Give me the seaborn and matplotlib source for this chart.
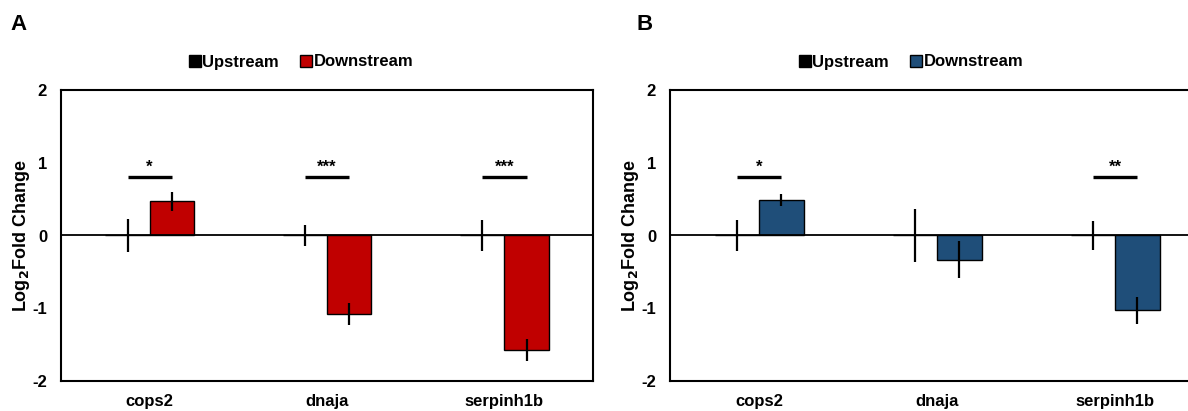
import numpy as np
import pandas as pd
import matplotlib
matplotlib.use("Agg")
import matplotlib.pyplot as plt
import seaborn as sns
from matplotlib.lines import Line2D

genes = ["cops2", "dnaja", "serpinh1b"]
groups = ["Upstream", "Downstream"]

# Panel A
a_up = [0.0, 0.0, 0.0]
a_up_err = [0.22, 0.14, 0.21]
a_down = [0.47, -1.08, -1.57]
a_down_err = [0.13, 0.15, 0.15]
a_stars = ["*", "***", "***"]

# Panel B
b_up = [0.0, 0.0, 0.0]
b_up_err = [0.21, 0.37, 0.20]
b_down = [0.49, -0.33, -1.03]
b_down_err = [0.08, 0.25, 0.19]
b_stars = ["*", "", "**"]

sns.set_style("white")
plt.rcParams["font.family"] = ["Liberation Sans", "DejaVu Sans"]
plt.rcParams["font.weight"] = "bold"
for k in ["text.color", "axes.labelcolor", "xtick.color", "ytick.color", "legend.labelcolor"]:
    plt.rcParams[k] = "black"

fig = plt.figure(figsize=(11.88, 4.11), dpi=100)
axA = fig.add_axes([61 / 1188, 1 - 381 / 411, 532 / 1188, 291 / 411])
axB = fig.add_axes([670 / 1188, 1 - 381 / 411, 534 / 1188, 291 / 411])


def draw(ax, up, up_err, down, down_err, stars, color):
    df = pd.DataFrame({
        "gene": genes * 2,
        "group": [groups[0]] * 3 + [groups[1]] * 3,
        "value": up + down,
    })
    sns.barplot(data=df, x="gene", y="value", hue="group", order=genes,
                hue_order=groups, palette={"Upstream": "black", "Downstream": color},
                width=0.5, errorbar=None, edgecolor="black", linewidth=1.0,
                saturation=1, legend=False, ax=ax)
    errs = [up_err, down_err]
    centers = []
    for cont, err in zip(ax.containers, errs):
        xs = [p.get_x() + p.get_width() / 2 for p in cont.patches]
        vals = list(cont.datavalues)
        ax.errorbar(xs, vals, yerr=err, fmt="none", ecolor="black", elinewidth=1.6, capsize=0, zorder=5)
        centers.append(xs)
    ax.axhline(0, color="black", linewidth=1.3, zorder=4)
    for i, s in enumerate(stars):
        if s:
            x0, x1 = centers[0][i], centers[1][i]
            ax.plot([x0, x1], [0.81, 0.81], color="black", linewidth=2.4, solid_capstyle="butt")
            ax.text((x0 + x1) / 2, 0.83, s, ha="center", va="bottom", fontsize=12, fontweight="bold")
    ax.set_ylim(-2, 2)
    ax.set_xlim(-0.5, 2.5)
    ax.set_yticks([-2, -1, 0, 1, 2])
    ax.set_yticklabels(["-2", "-1", "0", "1", "2"], fontsize=12, fontweight="bold")
    ax.set_xticks(range(3))
    ax.set_xticklabels(genes, fontsize=12, fontweight="bold")
    ax.tick_params(axis="both", length=0, colors="black")
    ax.tick_params(axis="x", pad=9)
    ax.tick_params(axis="y", pad=10)
    ax.set_xlabel("")
    ax.set_ylabel("Log$_\\mathbf{2}$Fold Change", fontsize=13, fontweight="bold", labelpad=0, color="black")
    for sp in ax.spines.values():
        sp.set_visible(True)
        sp.set_color("black")
        sp.set_linewidth(1.5)
    handles = [Line2D([], [], marker="s", linestyle="none", markersize=8,
                      markerfacecolor="black", markeredgecolor="black"),
               Line2D([], [], marker="s", linestyle="none", markersize=8,
                      markerfacecolor=color, markeredgecolor="black")]
    return handles


hA = draw(axA, a_up, a_up_err, a_down, a_down_err, a_stars, "#C00000")
hB = draw(axB, b_up, b_up_err, b_down, b_down_err, b_stars, "#1F4E79")

for h, xc in [(hA, 301 / 1188), (hB, 911 / 1188)]:
    fig.legend(h, groups, loc="center", bbox_to_anchor=(xc, 1 - 62 / 411), ncol=2,
               frameon=False, handletextpad=0.1, columnspacing=1.3,
               prop={"weight": "bold", "size": 12}, handlelength=0.7)

fig.text(10 / 1188, 1 - 25 / 411, "A", fontsize=16, fontweight="bold", va="center", ha="left", color="black")
fig.text(637 / 1188, 1 - 25 / 411, "B", fontsize=16, fontweight="bold", va="center", ha="left", color="black")

fig.savefig("out.png", dpi=100)
